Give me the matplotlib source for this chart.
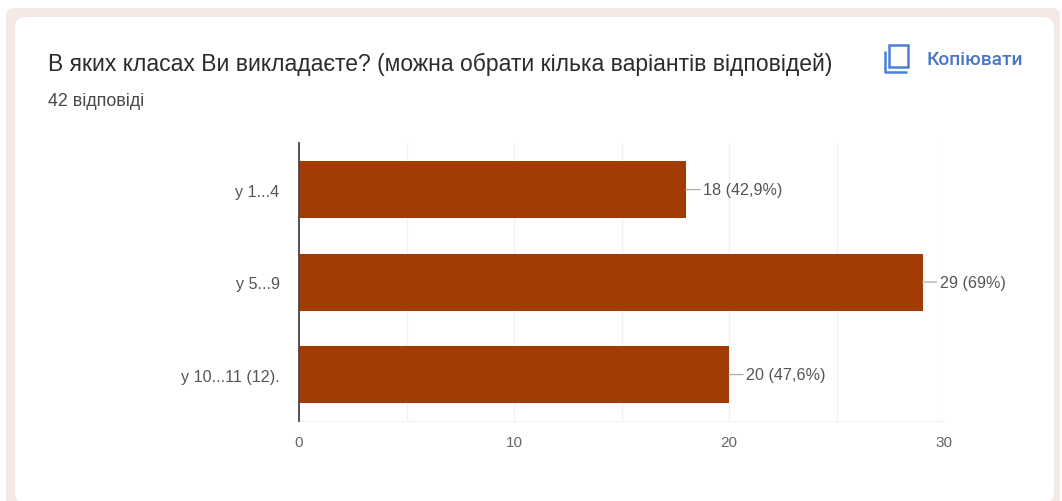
import matplotlib
matplotlib.use("Agg")
import matplotlib.pyplot as plt
from matplotlib.patches import FancyBboxPatch, Rectangle

categories = ["у 1...4", "у 5...9", "у 10...11 (12)."]
counts = [18, 29, 20]
labels = ["18 (42,9%)", "29 (69%)", "20 (47,6%)"]
x_ticks = [0, 10, 20, 30]
x_grid = [0, 5, 10, 15, 20, 25, 30]

W, H = 1062, 502
plt.rcParams["font.family"] = ["Liberation Sans", "DejaVu Sans"]
fig = plt.figure(figsize=(W / 100, H / 100), dpi=100, facecolor="white")

# page background and card, in pixel coords
bg = fig.add_axes([0, 0, 1, 1])
bg.set_xlim(0, W)
bg.set_ylim(H, 0)
bg.axis("off")
bg.add_patch(FancyBboxPatch((6, 9), 1054, 520, boxstyle="round,pad=0,rounding_size=8",
                            fc="#f4e9e4", ec="none"))
bg.add_patch(FancyBboxPatch((15, 18), 1039, 486, boxstyle="round,pad=0,rounding_size=11",
                            fc="white", ec="none"))

bg.text(48, 64, "В яких класах Ви викладаєте? (можна обрати кілька варіантів відповідей)",
        fontsize=16.45, family=["Liberation Sans", "DejaVu Sans"], color="#2b2b2b", va="center")
bg.text(48, 102, "42 відповіді", fontsize=12.9, family=["Liberation Sans", "DejaVu Sans"],
        color="#4a4a4a", va="center")
bg.text(926, 60, "Копіювати", fontsize=13.8, family=["Roboto", "DejaVu Sans"],
        color="#4a76c9", va="center", fontweight="medium")

# copy icon
blue = "#4a7fd6"
bg.add_patch(Rectangle((889, 46), 19, 22, fc="none", ec=blue, lw=1.8))
bg.plot([885, 885, 907], [52, 73, 73], color=blue, lw=1.8, solid_capstyle="butt")

# chart
left, right = 299, 944
top, bottom = 144.3, 421.8
ax = fig.add_axes([left / W, 1 - bottom / H, (right - left) / W, (bottom - top) / H])
ypos = list(range(len(categories)))
ax.barh(ypos, counts, height=0.616, color="#a33b05", zorder=3)
ax.set_xlim(0, 30)
ax.set_ylim(2.5, -0.5)
ax.set_yticks(ypos)
ax.set_yticklabels(categories, fontsize=11.6, color="#555555")
ax.set_xticks(x_ticks)
ax.set_xticklabels(x_ticks, fontsize=11, color="#666666")
ax.set_xticks(x_grid, minor=True)
ax.grid(True, axis="x", which="both", color="#f1f1f1", lw=0.9, zorder=0)
ax.tick_params(axis="both", which="both", length=0)
ax.tick_params(axis="y", pad=14)
ax.tick_params(axis="x", pad=10)
for s in ["top", "right"]:
    ax.spines[s].set_visible(False)
ax.spines["bottom"].set_color("#f1f1f1")
ax.spines["left"].set_color("#444444")
ax.spines["left"].set_linewidth(1.3)
ax.spines["left"].set_zorder(5)

# leader lines with value labels
for y, c, t in zip(ypos, counts, labels):
    ax.annotate(t, xy=(c, y), xytext=(17, 0), textcoords="offset pixels",
                fontsize=11.6, color="#555555", va="center", ha="left", zorder=4,
                arrowprops=dict(arrowstyle="-", color="#aaaaaa", lw=0.9,
                                shrinkA=0, shrinkB=0))

fig.savefig("out.png", dpi=100)
